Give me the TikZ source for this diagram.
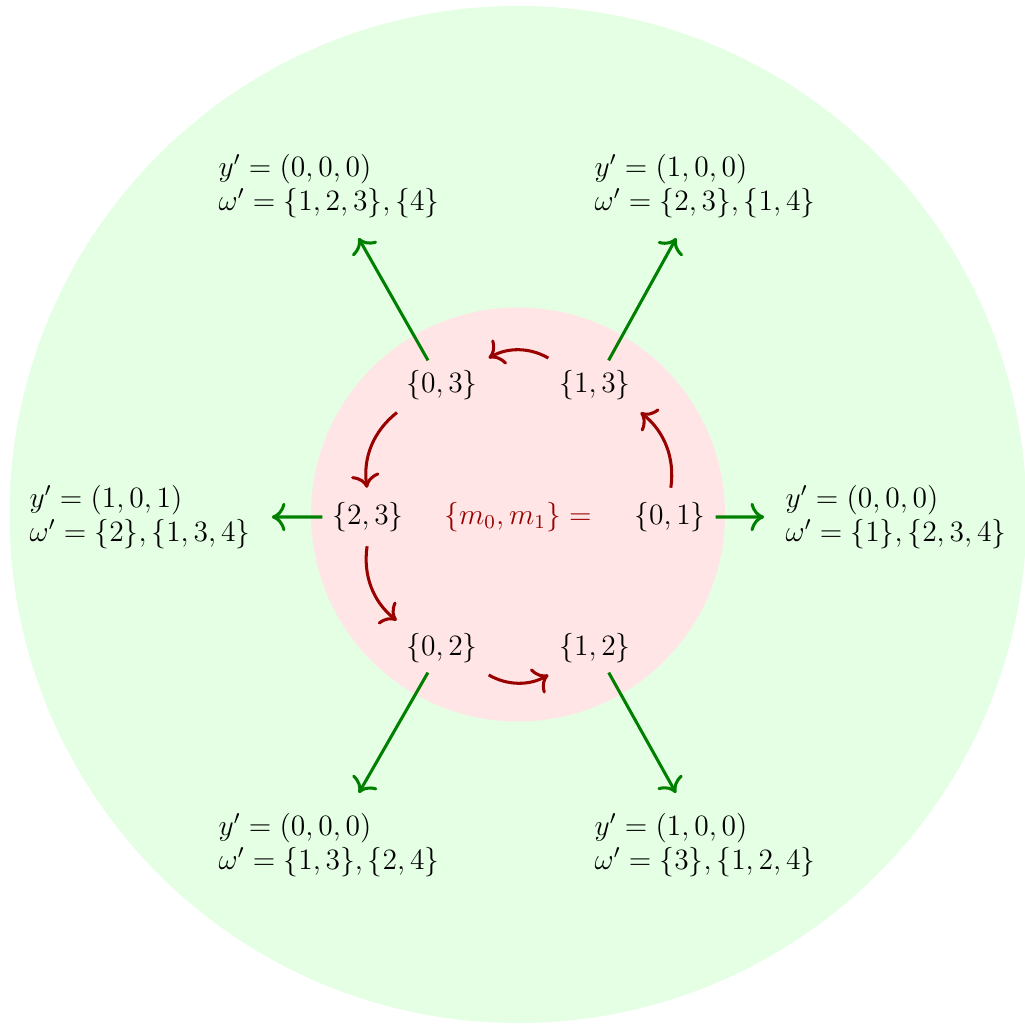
\documentclass[tikz,border=0pt]{standalone}
\usepackage{amsmath}
\usetikzlibrary{arrows.meta}
\begin{document}
\begin{tikzpicture}[x=0.015cm,y=-0.015cm,
  every node/.style={font=\large,inner sep=3.8pt,scale=1.05},
  inner/.style={text=black},
  lbl/.style={align=left,text=black},
  redarr/.style={-{To[scale=1.3]},line width=1.3pt,draw=red!60!black,bend right=30,shorten <=2pt,shorten >=2pt},
  grnarr/.style={-{To[scale=1.3]},line width=1.3pt,draw=green!50!black,shorten <=0pt,shorten >=5pt}]
\useasboundingbox (0,0) rectangle (1025,1024);
\fill[green!10] (518,514.5) circle[radius=508.5*0.015cm];
\fill[red!10] (518,514.5) circle[radius=207*0.015cm];
\node[text=red!60!black] (c) at (518,517) {$\{m_0,m_1\}=$};
\node[inner] (n01) at (670,517) {$\{0,1\}$};
\node[inner] (n13) at (595,385) {$\{1,3\}$};
\node[inner] (n03) at (442,385) {$\{0,3\}$};
\node[inner] (n23) at (368,517) {$\{2,3\}$};
\node[inner] (n02) at (442,648) {$\{0,2\}$};
\node[inner] (n12) at (595,648) {$\{1,2\}$};
\node[lbl] (l01) at (896,517) {$y'=(0,0,0)$\\$\omega'=\{1\},\{2,3,4\}$};
\node[lbl] (l13) at (705,186) {$y'=(1,0,0)$\\$\omega'=\{2,3\},\{1,4\}$};
\node[lbl] (l03) at (329,186) {$y'=(0,0,0)$\\$\omega'=\{1,2,3\},\{4\}$};
\node[lbl] (l23) at (140,517) {$y'=(1,0,1)$\\$\omega'=\{2\},\{1,3,4\}$};
\node[lbl] (l02) at (329,845) {$y'=(0,0,0)$\\$\omega'=\{1,3\},\{2,4\}$};
\node[lbl] (l12) at (705,845) {$y'=(1,0,0)$\\$\omega'=\{3\},\{1,2,4\}$};
\draw[redarr] (n01) to (n13);
\draw[redarr] (n13) to (n03);
\draw[redarr] (n03) to (n23);
\draw[redarr] (n23) to (n02);
\draw[redarr] (n02) to (n12);
\draw[grnarr] (n01) -- (l01);
\draw[grnarr] (n13) -- (l13);
\draw[grnarr] (n03) -- (l03);
\draw[grnarr] (n23) -- (l23);
\draw[grnarr] (n02) -- (l02);
\draw[grnarr] (n12) -- (l12);
\end{tikzpicture}
\end{document}
